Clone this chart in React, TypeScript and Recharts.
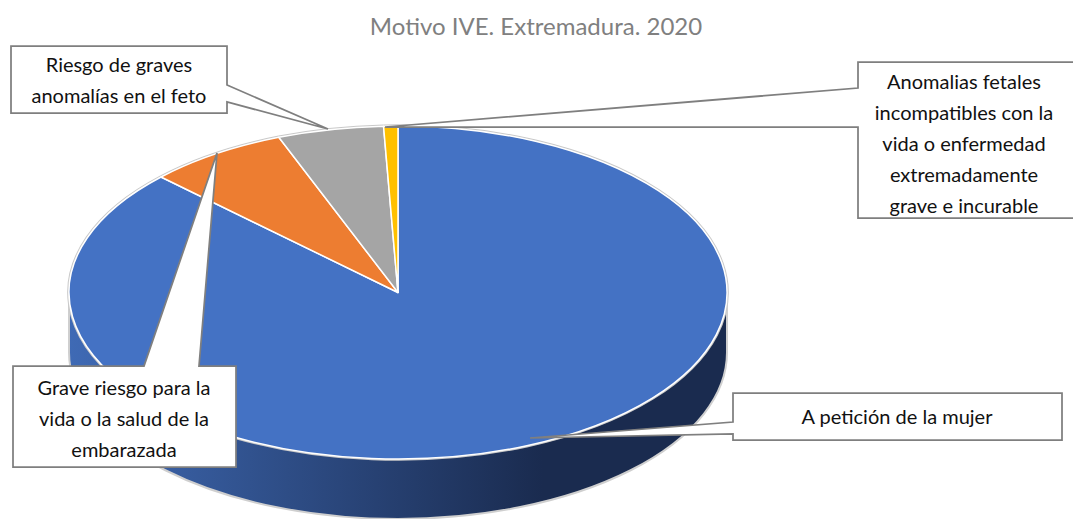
import { PieChart, Pie, Cell } from "recharts";

const TITLE = "Motivo IVE. Extremadura. 2020";

const categories = [
  "A petición de la mujer",
  "Grave riesgo para la vida o la salud de la embarazada",
  "Riesgo de graves anomalías en el feto",
  "Anomalias fetales incompatibles con la vida o enfermedad extremadamente grave e incurable",
];
const values = [87.2, 6.9, 5.2, 0.7];
const colors = ["#4472c4", "#ed7d31", "#a5a5a5", "#ffc000"];
const labelLines = [
  ["A petición de la mujer"],
  ["Grave riesgo para la", "vida o la salud de la", "embarazada"],
  ["Riesgo de graves", "anomalías en el feto"],
  ["Anomalias fetales", "incompatibles con la", "vida o enfermedad", "extremadamente", "grave e incurable"],
];

const data = categories.map((name, i) => ({ name, value: values[i] }));

const WIDTH = 1073;
const HEIGHT = 519;
const CX = 398;
const CY = 292.5;
const RX = 329;
const SQUASH = 166.5 / 329; // pie is tilted, so the circle becomes an ellipse
const DEPTH = 60;
const FONT = "Lato, 'Open Sans', sans-serif";
const RAD = Math.PI / 180;

// callout outlines, same order as the categories: box path + where the text sits
const callouts = [
  { path: "M733,393 H1062 V440 H733 V434 L530,438 L733,422 Z", textX: 897, firstY: 424 },
  { path: "M13,366 H144 L217,153 L199,366 H236 V467 H13 Z", textX: 124, firstY: 395 },
  { path: "M11,46 H227 V85 L328,129 L227,102 V113 H11 Z", textX: 119, firstY: 72 },
  { path: "M858,62 H1075 V218 H858 V127 L385,127 L858,88 Z", textX: 964, firstY: 89 },
];

const pt = (cx: number, cy: number, r: number, deg: number) => ({
  x: cx + r * Math.cos(deg * RAD),
  y: cy - r * SQUASH * Math.sin(deg * RAD),
});

// top face of a slice, recharts gives us the angles, we squash the radius
const TopSlice = (props: any) => {
  const { cx, cy, outerRadius: r, startAngle, endAngle, fill } = props;
  const a = pt(cx, cy, r, startAngle);
  const b = pt(cx, cy, r, endAngle);
  const large = Math.abs(startAngle - endAngle) > 180 ? 1 : 0;
  const arc = `M${a.x},${a.y} A${r},${r * SQUASH} 0 ${large} 1 ${b.x},${b.y}`;
  return (
    <g>
      <path d={arc} fill="none" stroke="#c9c9c9" strokeWidth={3.5} />
      <path d={`M${cx},${cy} L${a.x},${a.y} A${r},${r * SQUASH} 0 ${large} 1 ${b.x},${b.y} Z`} fill={fill} stroke="#fff" strokeWidth={1.5} strokeLinejoin="round" />
    </g>
  );
};

// side wall, only the part of a slice facing the viewer (-180..0)
const WallSlice = (props: any) => {
  const { cx, cy, outerRadius: r, startAngle, endAngle } = props;
  const from = Math.min(startAngle, 0);
  const to = Math.max(endAngle, -180);
  if (from <= to) return <g />;
  const a = pt(cx, cy, r, from);
  const b = pt(cx, cy, r, to);
  const ry = r * SQUASH;
  return (
    <path
      d={`M${a.x},${a.y} A${r},${ry} 0 0 1 ${b.x},${b.y} L${b.x},${b.y + DEPTH} A${r},${ry} 0 0 0 ${a.x},${a.y + DEPTH} Z`}
      fill="url(#wallFill)"
      stroke="#cfcfcf"
      strokeWidth={2}
    />
  );
};

const renderCallout = (props: any) => {
  const { index } = props;
  const box = callouts[index];
  return (
    <g key={index}>
      <path d={box.path} fill="#fff" stroke="#7f7f7f" strokeWidth={1.75} />
      <text textAnchor="middle" fontFamily={FONT} fontSize={20} fill="#111">
        {labelLines[index].map((line, i) => (
          <tspan key={i} x={box.textX} y={box.firstY + i * 31}>
            {line}
          </tspan>
        ))}
      </text>
    </g>
  );
};

export default function App() {
  return (
    <div style={{ position: "absolute", left: 0, top: 0, width: WIDTH, height: HEIGHT, overflow: "hidden", background: "#fff" }}>
      <PieChart width={WIDTH} height={HEIGHT} margin={{ top: 0, right: 0, bottom: 0, left: 0 }}>
        <defs>
          <linearGradient id="wallFill" gradientUnits="userSpaceOnUse" x1={69} y1={0} x2={727} y2={0}>
            <stop offset="0" stopColor="#3f6ab5" />
            <stop offset="0.72" stopColor="#1a2b4f" />
            <stop offset="1" stopColor="#1a2b4f" />
          </linearGradient>
        </defs>
        <text x={536} y={35} textAnchor="middle" fontFamily={FONT} fontSize={24} fill="#808080">
          {TITLE}
        </text>
        <Pie
          data={data}
          dataKey="value"
          cx={CX}
          cy={CY}
          outerRadius={RX}
          startAngle={90}
          endAngle={-270}
          shape={WallSlice}
          isAnimationActive={false}
          label={false}
          labelLine={false}
        />
        <Pie
          data={data}
          dataKey="value"
          cx={CX}
          cy={CY}
          outerRadius={RX}
          startAngle={90}
          endAngle={-270}
          shape={TopSlice}
          isAnimationActive={false}
          label={renderCallout}
          labelLine={false}
        >
          {data.map((d, i) => (
            <Cell key={d.name} fill={colors[i]} />
          ))}
        </Pie>
      </PieChart>
    </div>
  );
}
